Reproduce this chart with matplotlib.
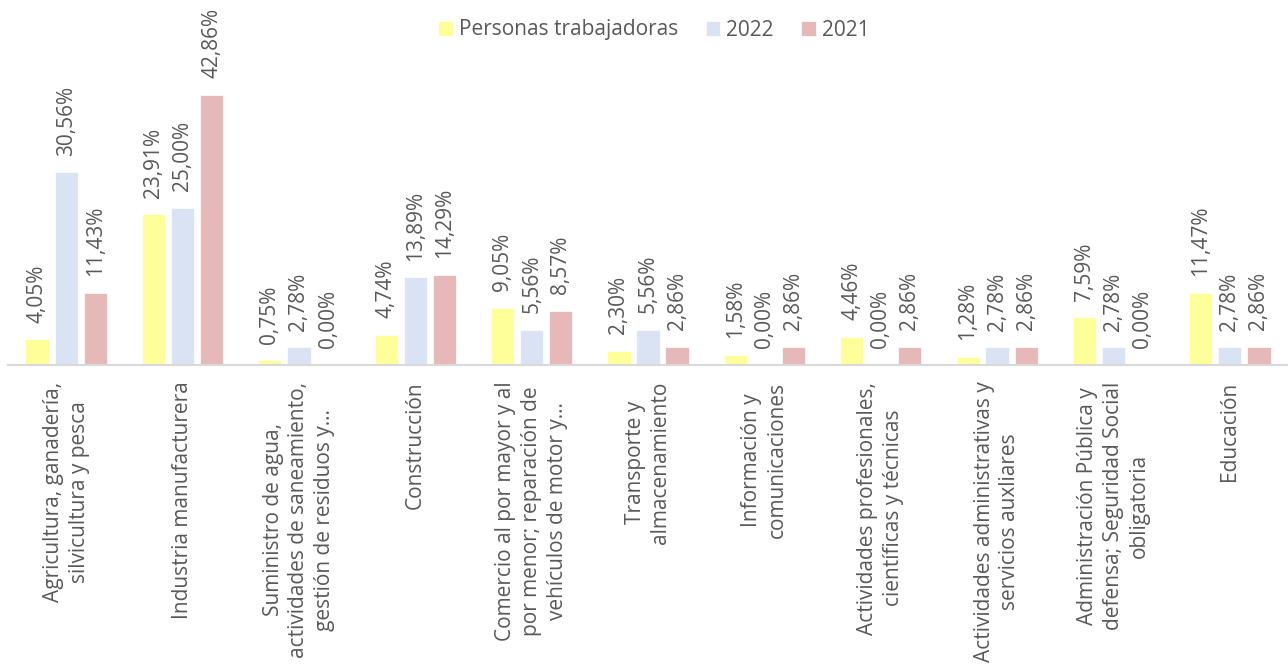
import numpy as np
import matplotlib
matplotlib.use("Agg")
import matplotlib.pyplot as plt

plt.rcParams['font.family'] = ['Open Sans', 'DejaVu Sans']

# datos
categorias = [
    "Agricultura, ganadería,\nsilvicultura y pesca",
    "Industria manufacturera",
    "Suministro de agua,\nactividades de saneamiento,\ngestión de residuos y...",
    "Construcción",
    "Comercio al por mayor y al\npor menor; reparación de\nvehículos de motor y...",
    "Transporte y\nalmacenamiento",
    "Información y\ncomunicaciones",
    "Actividades profesionales,\ncientíficas y técnicas",
    "Actividades administrativas y\nservicios auxliares",
    "Administración Pública y\ndefensa; Seguridad Social\nobligatoria",
    "Educación",
]
personas = [4.05, 23.91, 0.75, 4.74, 9.05, 2.30, 1.58, 4.46, 1.28, 7.59, 11.47]
v2022 = [30.56, 25.00, 2.78, 13.89, 5.56, 5.56, 0.00, 0.00, 2.78, 2.78, 2.78]
v2021 = [11.43, 42.86, 0.00, 14.29, 8.57, 2.86, 2.86, 2.86, 2.86, 0.00, 2.86]
series = ["Personas trabajadoras", "2022", "2021"]
colores = ["#FFFF99", "#DAE3F3", "#E6B9B8"]

texto = "#595959"
fs = 15

fig = plt.figure(figsize=(12.88, 6.66), dpi=100)
ax = fig.add_axes([8 / 1288, 1 - 365 / 666, 1280 / 1288, 315 / 666])

x = np.arange(len(categorias))
ancho = 0.2
paso = 0.25
for i, (vals, nombre, col) in enumerate(zip([personas, v2022, v2021], series, colores)):
    pos = x + (i - 1) * paso
    ax.bar(pos, vals, width=ancho, color=col, edgecolor="white", linewidth=0.5, label=nombre)
    for xp, v in zip(pos, vals):
        ax.annotate(f"{v:.2f}%".replace(".", ","), (xp, v), xytext=(0, 12),
                    textcoords="offset points", rotation=90, ha="center", va="bottom",
                    fontsize=fs, color=texto)

ax.set_xlim(-0.5, len(categorias) - 0.5)
ax.set_ylim(0, 50)
ax.set_yticks([])
for s in ["top", "right", "left"]:
    ax.spines[s].set_visible(False)
ax.spines["bottom"].set_color("#D9D9D9")
ax.spines["bottom"].set_linewidth(1.5)

ax.set_xticks(x)
ax.set_xticklabels(categorias, rotation=90, ha="center", va="top", multialignment="center",
                   fontsize=fs, color=texto, linespacing=1.3)
ax.tick_params(axis="x", length=0, pad=12)

fig.legend(loc="center", bbox_to_anchor=(654 / 1288, 1 - 30 / 666), ncol=3, frameon=False,
           fontsize=fs, labelcolor=texto, handlelength=0.7, handleheight=0.7,
           handletextpad=0.3, columnspacing=1.3)

fig.savefig("out.png", dpi=100)
